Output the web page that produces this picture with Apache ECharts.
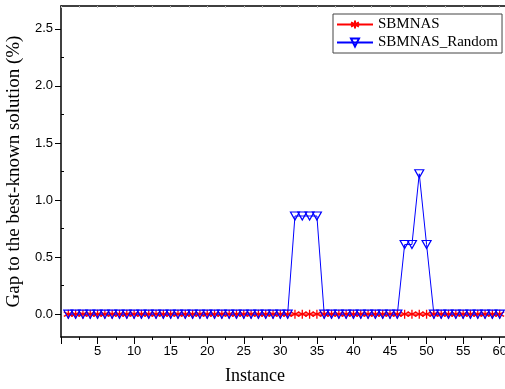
<!DOCTYPE html>
<html>
<head>
<meta charset="utf-8">
<script src="https://cdn.jsdelivr.net/npm/echarts@6/dist/echarts.min.js"></script>
<style>
  html, body { margin: 0; padding: 0; background: #fff; }
  #chart { width: 505px; height: 389px; }
</style>
</head>
<body>
<div id="chart"></div>
<script>
// instances 1..60
const instances = [
  1, 2, 3, 4, 5, 6, 7, 8, 9, 10, 11, 12, 13, 14, 15, 16, 17, 18, 19, 20,
  21, 22, 23, 24, 25, 26, 27, 28, 29, 30, 31, 32, 33, 34, 35, 36, 37, 38, 39, 40,
  41, 42, 43, 44, 45, 46, 47, 48, 49, 50, 51, 52, 53, 54, 55, 56, 57, 58, 59, 60
]
// gap (%) of SBMNAS: zero everywhere
const gapSbmnas = [
  0, 0, 0, 0, 0, 0, 0, 0, 0, 0, 0, 0, 0, 0, 0, 0, 0, 0, 0, 0,
  0, 0, 0, 0, 0, 0, 0, 0, 0, 0, 0, 0, 0, 0, 0, 0, 0, 0, 0, 0,
  0, 0, 0, 0, 0, 0, 0, 0, 0, 0, 0, 0, 0, 0, 0, 0, 0, 0, 0, 0
]
// gap (%) of SBMNAS_Random
const gapRandom = [
  0, 0, 0, 0, 0, 0, 0, 0, 0, 0, 0, 0, 0, 0, 0, 0, 0, 0, 0, 0,
  0, 0, 0, 0, 0, 0, 0, 0, 0, 0, 0, 0.86, 0.86, 0.86, 0.86, 0, 0, 0, 0, 0,
  0, 0, 0, 0, 0, 0, 0.61, 0.61, 1.23, 0.61, 0, 0, 0, 0, 0, 0, 0, 0, 0, 0
]
const yTicks = [0, 0.5, 1.0, 1.5, 2.0, 2.5]
const yMinorTicks = [0.25, 0.75, 1.25, 1.75, 2.25]

// 星号标记
const asterisk = 'path://M0,-10L0,10M-8.66,-5L8.66,5M-8.66,5L8.66,-5'

const chart = echarts.init(document.getElementById('chart'))

const option = {
  animation: false,
  grid: { left: 61, right: -2, top: 6, bottom: 52, containLabel: false, outerBoundsMode: 'none' },
  legend: {
    orient: 'vertical',
    left: 333,
    top: 14,
    padding: [3, 4, 3, 3],
    itemGap: 3,
    itemWidth: 36,
    itemHeight: 10,
    borderColor: '#444',
    borderWidth: 1,
    textStyle: { fontFamily: 'Liberation Serif', fontSize: 15, color: '#000' },
    data: ['SBMNAS', 'SBMNAS_Random']
  },
  xAxis: [
    {
      type: 'value',
      min: 0,
      max: 61,
      interval: 5,
      name: 'Instance',
      nameLocation: 'middle',
      nameGap: 30,
      nameTextStyle: { fontFamily: 'Liberation Serif', fontSize: 18, color: '#000', padding: [0, 58, 0, 0] },
      axisLine: { onZero: false, lineStyle: { color: '#000', width: 1.5 } },
      axisTick: { length: 7, lineStyle: { color: '#000' } },
      minorTick: { show: true, splitNumber: 2, length: 3, lineStyle: { color: '#000' } },
      axisLabel: {
        fontFamily: 'Liberation Sans',
        fontSize: 13,
        color: '#000',
        margin: 8,
        formatter: v => (v > 0 && v % 5 === 0 ? String(v) : '')
      },
      splitLine: { show: false }
    },
    {
      type: 'value',
      position: 'top',
      min: 0,
      max: 61,
      interval: 2.5,
      axisLine: { show: true, onZero: false, lineStyle: { color: '#000', width: 1.5 } },
      axisTick: { show: true, inside: true, length: 2, lineStyle: { color: '#bbb' } },
      axisLabel: { show: false },
      splitLine: { show: false }
    }
  ],
  yAxis: [
    {
      type: 'value',
      min: -0.2,
      max: 2.7,
      name: 'Gap to the best-known solution (%)',
      nameLocation: 'middle',
      nameGap: 37,
      nameTextStyle: { fontFamily: 'Liberation Serif', fontSize: 19, color: '#000' },
      axisLine: { show: true, lineStyle: { color: '#000', width: 1.5 } },
      axisTick: { show: true, length: 6, customValues: yTicks, lineStyle: { color: '#000' } },
      axisLabel: {
        fontFamily: 'Liberation Sans',
        fontSize: 13,
        color: '#000',
        margin: 8,
        customValues: yTicks,
        formatter: v => v.toFixed(1)
      },
      splitLine: { show: false }
    },
    {
      type: 'value',
      position: 'left',
      min: -0.2,
      max: 2.7,
      axisLine: { show: false },
      axisTick: { show: true, inside: true, length: 3, customValues: yMinorTicks, lineStyle: { color: '#000' } },
      axisLabel: { show: false },
      splitLine: { show: false }
    }
  ],
  series: [
    {
      name: 'SBMNAS',
      type: 'line',
      data: instances.map((x, i) => [x, gapSbmnas[i]]),
      symbol: asterisk,
      symbolSize: 9,
      showAllSymbol: true,
      lineStyle: { color: '#ff0000', width: 1 },
      itemStyle: { color: '#ff0000', borderColor: '#ff0000', borderWidth: 1.3 }
    },
    {
      name: 'SBMNAS_Random',
      type: 'line',
      data: instances.map((x, i) => [x, gapRandom[i]]),
      symbol: 'triangle',
      symbolRotate: 180,
      symbolSize: [9, 8],
      showAllSymbol: true,
      lineStyle: { color: '#0000ff', width: 1 },
      itemStyle: { color: 'rgba(255,255,255,0)', borderColor: '#0000ff', borderWidth: 1.2 }
    }
  ]
}

chart.setOption(option)
</script>
</body>
</html>
